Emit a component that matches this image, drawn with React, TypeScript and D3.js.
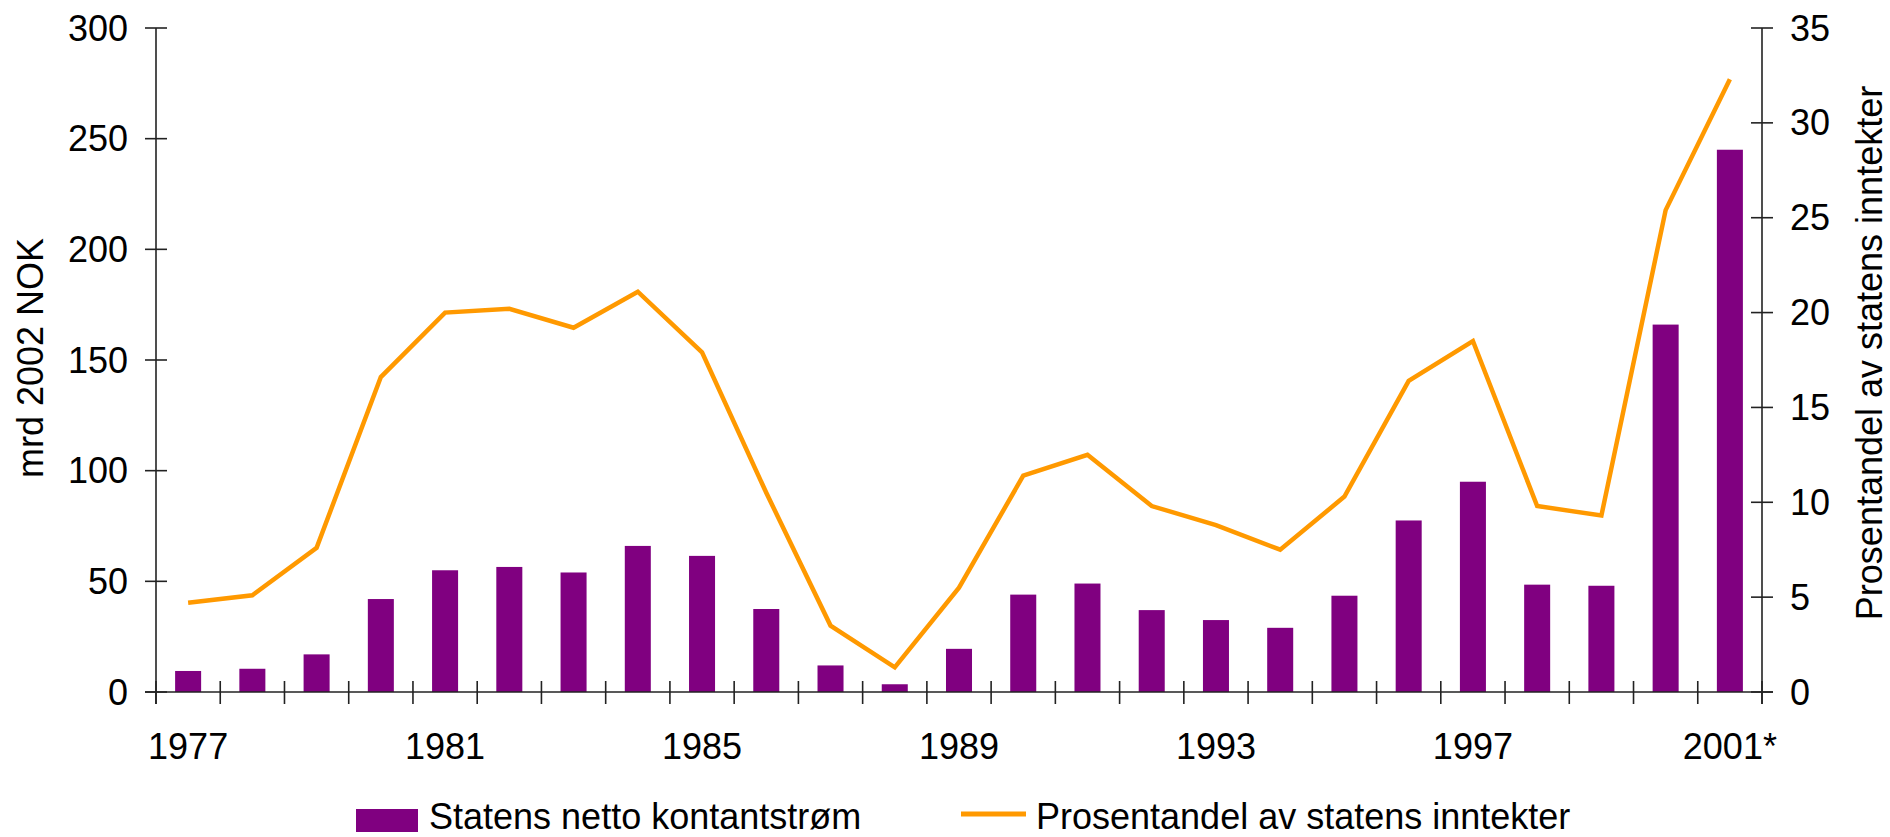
import React, { useEffect } from "react";
import * as d3 from "d3";

const years = [
  "1977","1978","1979","1980","1981","1982","1983","1984","1985","1986","1987","1988",
  "1989","1990","1991","1992","1993","1994","1995","1996","1997","1998","1999","2000","2001*",
];
const cashFlow = [
  9.5, 10.5, 17, 42, 55, 56.5, 54, 66, 61.5, 37.5, 12, 3.5,
  19.5, 44, 49, 37, 32.5, 29, 43.5, 77.5, 95, 48.5, 48, 166, 245,
];
const shareOfIncome = [
  4.7, 5.1, 7.6, 16.6, 20.0, 20.2, 19.2, 21.1, 17.9, 10.5, 3.5, 1.3,
  5.5, 11.4, 12.5, 9.8, 8.8, 7.5, 10.3, 16.4, 18.5, 9.8, 9.3, 25.4, 32.3,
];
const leftTicks = [0, 50, 100, 150, 200, 250, 300];
const rightTicks = [0, 5, 10, 15, 20, 25, 30, 35];
const labeledYears = ["1977", "1981", "1985", "1989", "1993", "1997", "2001*"];
const barLabel = "Statens netto kontantstrøm";
const lineLabel = "Prosentandel av statens inntekter";
const leftTitle = "mrd 2002 NOK";

const W = 1890;
const H = 837;
const left = 156;
const right = 1762;
const top = 28;
const bottom = 692;
const font = "'Liberation Sans', Arial, Helvetica, sans-serif";
const fs = 36;
const axisColor = "#222";
const purple = "#800080";
const orange = "#FF9900";

export default function App() {
  useEffect(() => {
    document.body.style.margin = "0";
  }, []);

  const x = d3.scaleBand<string>().domain(years).range([left, right]).paddingInner(0).paddingOuter(0);
  const yL = d3.scaleLinear().domain([0, 300]).range([bottom, top]);
  const yR = d3.scaleLinear().domain([0, 35]).range([bottom, top]);
  const bw = x.bandwidth() * 0.405;
  const line = d3
    .line<number>()
    .x((_, i) => (x(years[i]) as number) + x.bandwidth() / 2)
    .y((d) => yR(d));

  const boundaries = d3.range(years.length + 1).map((i) => left + i * x.bandwidth());

  return (
    <svg width={W} height={H} style={{ position: "absolute", left: 0, top: 0, background: "#fff" }} fontFamily={font}>
      <rect x={0} y={0} width={W} height={H} fill="#fff" />
      {/* bars */}
      {cashFlow.map((v, i) => (
        <rect
          key={years[i]}
          x={(x(years[i]) as number) + (x.bandwidth() - bw) / 2}
          y={yL(v)}
          width={bw}
          height={yL(0) - yL(v)}
          fill={purple}
        />
      ))}
      {/* line */}
      <path d={line(shareOfIncome) || ""} fill="none" stroke={orange} strokeWidth={4.5} strokeLinejoin="miter" />

      {/* axes */}
      <line x1={left} x2={left} y1={top} y2={bottom + 12} stroke={axisColor} strokeWidth={1.6} />
      <line x1={right} x2={right} y1={top} y2={bottom + 12} stroke={axisColor} strokeWidth={1.6} />
      <line x1={left - 11} x2={right + 11} y1={bottom} y2={bottom} stroke={axisColor} strokeWidth={1.6} />
      {boundaries.map((bx, i) => (
        <line key={"bt" + i} x1={bx} x2={bx} y1={bottom - 11} y2={bottom + 12} stroke={axisColor} strokeWidth={1.6} />
      ))}
      {leftTicks.map((t) => (
        <g key={"lt" + t}>
          <line x1={left - 11} x2={left + 11} y1={yL(t)} y2={yL(t)} stroke={axisColor} strokeWidth={1.6} />
          <text x={128} y={yL(t)} dy="0.35em" textAnchor="end" fontSize={fs} fill="#000">
            {t}
          </text>
        </g>
      ))}
      {rightTicks.map((t) => (
        <g key={"rt" + t}>
          <line x1={right - 11} x2={right + 11} y1={yR(t)} y2={yR(t)} stroke={axisColor} strokeWidth={1.6} />
          <text x={1790} y={yR(t)} dy="0.35em" textAnchor="start" fontSize={fs} fill="#000">
            {t}
          </text>
        </g>
      ))}
      {labeledYears.map((yr) => (
        <text
          key={"xl" + yr}
          x={(x(yr) as number) + x.bandwidth() / 2}
          y={759}
          textAnchor="middle"
          fontSize={fs}
          fill="#000"
        >
          {yr}
        </text>
      ))}
      {/* axis titles */}
      <text transform="translate(43,358) rotate(-90)" textAnchor="middle" fontSize={fs} fill="#000">
        {leftTitle}
      </text>
      <text transform="translate(1882,353) rotate(-90)" textAnchor="middle" fontSize={fs} fill="#000">
        {lineLabel}
      </text>

      {/* legend */}
      <rect x={356} y={809} width={62} height={23} fill={purple} />
      <text x={429} y={829} fontSize={fs} fill="#000">
        {barLabel}
      </text>
      <line x1={961} x2={1026} y1={814} y2={814} stroke={orange} strokeWidth={5} />
      <text x={1036} y={829} fontSize={fs} fill="#000">
        {lineLabel}
      </text>
    </svg>
  );
}
